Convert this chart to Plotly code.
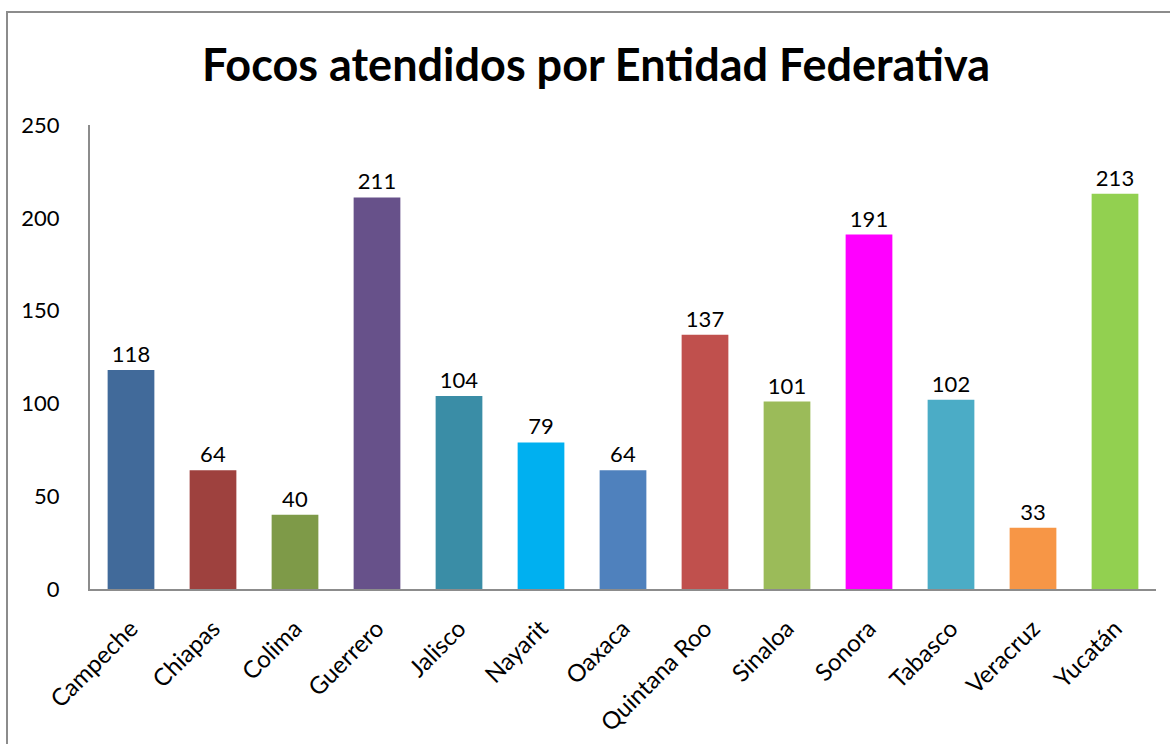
import plotly.graph_objects as go

categories = ["Campeche", "Chiapas", "Colima", "Guerrero", "Jalisco", "Nayarit", "Oaxaca",
              "Quintana Roo", "Sinaloa", "Sonora", "Tabasco", "Veracruz", "Yucatán"]
values = [118, 64, 40, 211, 104, 79, 64, 137, 101, 191, 102, 33, 213]
colors = ["#416A9A", "#9E413E", "#7E9A48", "#67518A", "#3A8DA6", "#00B0F0", "#4F81BD",
          "#C0504D", "#9BBB59", "#FF00FF", "#4BACC6", "#F79646", "#92D050"]
y_ticks = [0, 50, 100, 150, 200, 250]

FONT = "Lato, 'Open Sans', sans-serif"

fig = go.Figure(go.Bar(
    x=categories, y=values, marker=dict(color=colors, line=dict(width=0)),
    text=[str(v) for v in values], textposition="outside", cliponaxis=False,
    textfont=dict(size=22, color="black", family=FONT),
))

L, R, T, B = 90, 14, 125, 155
W, H = 1170, 744
pw, ph = W - L - R, H - T - B

fig.update_layout(
    width=W, height=H,
    margin=dict(l=L, r=R, t=T, b=B),
    paper_bgcolor="white", plot_bgcolor="white",
    bargap=0.43,
    showlegend=False,
    title=dict(text="<b>Focos atendidos por Entidad Federativa</b>",
               x=596 / W, xanchor="center", y=1 - 65 / H, yanchor="middle",
               font=dict(size=45, color="black", family=FONT)),
    font=dict(family=FONT, color="black"),
    xaxis=dict(showline=True, linecolor="#8C8C8C", linewidth=2, ticks="",
               tickangle=-45, tickfont=dict(size=24, color="black"), showgrid=False,
               ticklabelstandoff=14, automargin=False),
    yaxis=dict(range=[0, 250], tickvals=y_ticks, showline=True, linecolor="#8C8C8C",
               linewidth=2, ticks="", showgrid=False, zeroline=False, automargin=False,
               tickfont=dict(size=22, color="black"), ticklabelstandoff=24),
    shapes=[dict(type="rect", xref="paper", yref="paper",
                 x0=(7 - L) / pw, x1=(W + 20 - L) / pw,
                 y0=(H - B - (H + 20)) / ph, y1=(H - B - 12) / ph,
                 line=dict(color="#8C8C8C", width=2), fillcolor="rgba(0,0,0,0)", layer="below")],
)

fig.write_html("out.html", config={"displayModeBar": False},
               post_script="document.body.style.margin='0';document.body.style.overflow='hidden';")
